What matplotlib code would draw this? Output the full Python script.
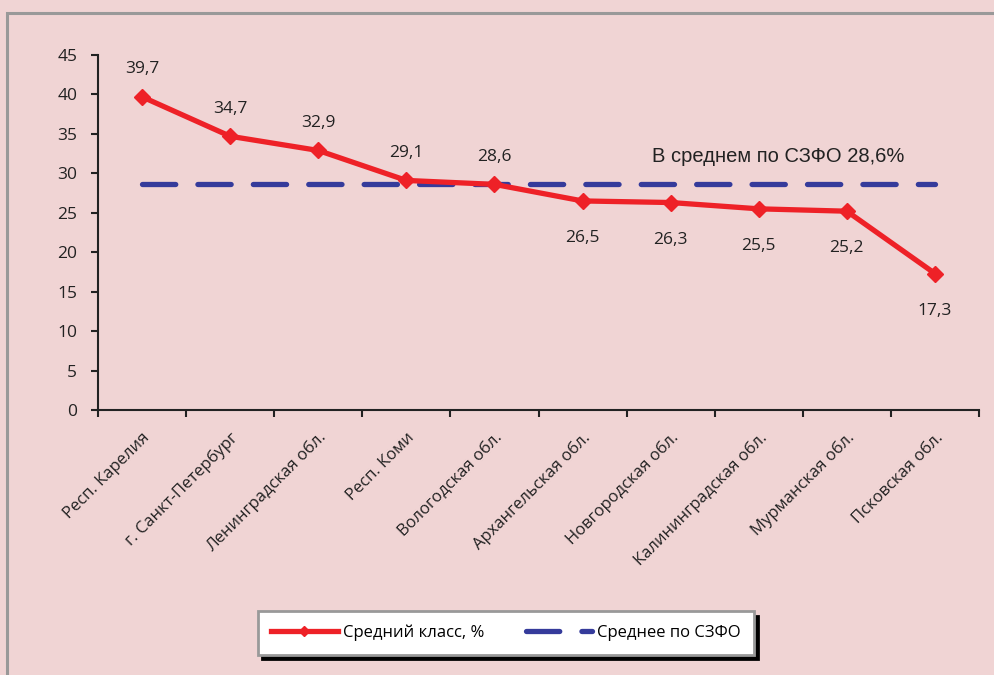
import matplotlib
matplotlib.use("Agg")
import matplotlib.pyplot as plt
from matplotlib.patches import Rectangle

regions = ["Респ. Карелия", "г. Санкт-Петербург", "Ленинградская обл.", "Респ. Коми",
           "Вологодская обл.", "Архангельская обл.", "Новгородская обл.",
           "Калининградская обл.", "Мурманская обл.", "Псковская обл."]
middle_class = [39.7, 34.7, 32.9, 29.1, 28.6, 26.5, 26.3, 25.5, 25.2, 17.3]
szfo_avg = 28.6
label_above = [True, True, True, True, True, False, False, False, False, False]

plt.rcParams['font.family'] = ['Open Sans', 'DejaVu Sans']

bg = '#f0d4d4'
red = '#ee2127'
blue = '#353b9b'

fig = plt.figure(figsize=(9.95, 6.75), dpi=100, facecolor=bg)
W, H = 995, 675

# outer gray frame
fig.patches.append(Rectangle((7 / W, -0.2), 1.2, 1.2 - 13 / H, transform=fig.transFigure,
                             fill=False, edgecolor='#999999', linewidth=2.2, zorder=0))

ax = fig.add_axes([98 / W, 1 - 410 / H, (979 - 98) / W, (410 - 55) / H])
ax.set_facecolor('none')

x = [i + 0.5 for i in range(len(regions))]
ax.plot([x[0], x[-1]], [szfo_avg, szfo_avg], color=blue, lw=3.8,
        dashes=(6.3, 4.2), dash_capstyle='round', label='Среднее по СЗФО', zorder=2)
ax.plot(x, middle_class, color=red, lw=3.8, marker='D', markersize=8,
        label='Средний класс, %', zorder=3)

for xi, v, up in zip(x, middle_class, label_above):
    txt = f"{v:.1f}".replace('.', ',')
    if up:
        ax.annotate(txt, (xi, v), xytext=(0, 14), textcoords='offset points',
                    ha='center', va='bottom', fontsize=12.5, color='#222222')
    else:
        ax.annotate(txt, (xi, v), xytext=(0, -21), textcoords='offset points',
                    ha='center', va='top', fontsize=12.5, color='#222222')

ax.text(7.72, 30.95, "В среднем по СЗФО 28,6%", ha='center', va='bottom', fontsize=14.5,
        color='#222222', family=['Liberation Sans', 'DejaVu Sans'])

ax.set_xlim(0, len(regions))
ax.set_ylim(0, 45)
ax.set_yticks(range(0, 46, 5))
ax.set_xticks(range(len(regions) + 1))
ax.set_xticklabels([])
ax.set_xticks(x, minor=True)
ax.set_xticklabels(regions, minor=True, rotation=45, ha='right', rotation_mode='anchor',
                   fontsize=12, color='#222222')
ax.tick_params(axis='x', which='minor', length=0, pad=14)
ax.tick_params(axis='x', which='major', length=5, width=1.5, color='#222222')
ax.tick_params(axis='y', length=5, width=1.5, color='#222222', labelsize=12.5,
               labelcolor='#222222', pad=10)
for s in ['top', 'right']:
    ax.spines[s].set_visible(False)
for s in ['left', 'bottom']:
    ax.spines[s].set_linewidth(1.5)
    ax.spines[s].set_color('#222222')

h, l = ax.get_legend_handles_labels()
leg = fig.legend(h[::-1], l[::-1], ncol=2, loc='center', bbox_to_anchor=(506 / W, 1 - 633 / H),
                 fontsize=12, frameon=True, fancybox=False, handlelength=4.0,
                 columnspacing=2.5, borderpad=0.8, handletextpad=0.3, borderaxespad=0,
                 shadow={'ox': 3, 'oy': -3, 'color': 'black', 'alpha': 1})
leg.get_frame().set_edgecolor('#999999')
leg.get_frame().set_linewidth(2)
leg.get_frame().set_facecolor('white')
for line in leg.get_lines():
    if line.get_marker() == 'D':
        line.set_markersize(5)

fig.savefig('out.png', dpi=100, facecolor=bg)
